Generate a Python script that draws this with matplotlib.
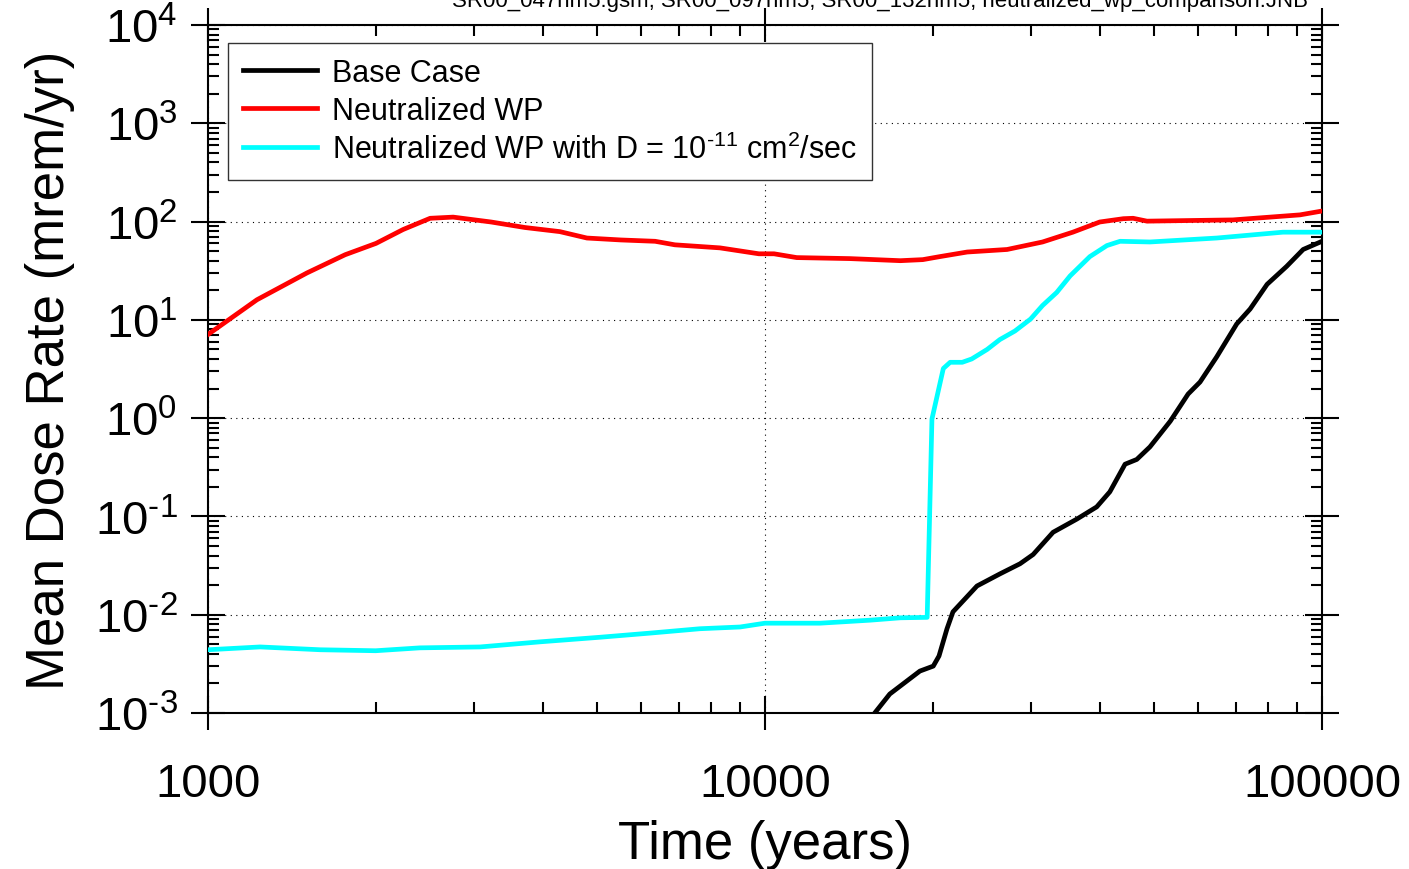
import matplotlib
matplotlib.use('Agg')
import matplotlib.pyplot as plt
import matplotlib.ticker as mticker
import numpy as np

plt.rcParams['font.family'] = ['Liberation Sans', 'DejaVu Sans']
plt.rcParams['mathtext.fontset'] = 'custom'
plt.rcParams['mathtext.rm'] = 'Liberation Sans'
plt.rcParams['mathtext.default'] = 'regular'

# Base Case
base_t = [15740, 16750, 18970, 20050, 20530, 21220, 21750, 24020, 26400, 28700,
          30300, 32900, 36300, 39400, 41600, 44300, 46500, 49100, 53400, 57500,
          60400, 64700, 70300, 74300, 79700, 86400, 92500, 100000]
base_d = [0.001, 0.00156, 0.00267, 0.0030, 0.0038, 0.0072, 0.0107, 0.0196, 0.026, 0.033,
          0.041, 0.069, 0.094, 0.125, 0.178, 0.34, 0.38, 0.51, 0.93, 1.76,
          2.33, 4.2, 9.1, 12.9, 23, 35, 52, 63]

# Neutralized WP
neut_t = [1000, 1224, 1505, 1763, 2003, 2240, 2505, 2755, 3223, 3708, 4283, 4790,
          5510, 6350, 6890, 8300, 9750, 10380, 11400, 14200, 17500, 19200, 20600,
          23070, 27200, 31500, 35700, 39900, 44000, 45800, 48500, 69200, 91300, 100000]
neut_d = [7.1, 16, 30, 46, 60, 83, 108, 111, 99, 87, 79, 68,
          65, 63, 58, 54, 47, 47, 43, 42, 40, 41, 44,
          49, 52, 62, 78, 99, 107, 108, 101, 104, 117, 128]

# Neutralized WP with D = 1e-11 cm2/sec
diff_t = [1000, 1240, 1590, 2000, 2400, 3080, 3950, 5060, 6220, 7640, 9020, 10000,
          12560, 15450, 17500, 19550, 19940, 20900, 21500, 22600, 23500, 25050,
          26400, 28100, 29980, 31500, 33400, 35300, 38300, 41100, 43400, 49100,
          64700, 85100, 100000]
diff_d = [0.0044, 0.0047, 0.0044, 0.0043, 0.0046, 0.0047, 0.0053, 0.0059, 0.0065,
          0.0072, 0.0075, 0.0082, 0.0082, 0.0088, 0.0093, 0.0094, 0.98, 3.2, 3.7,
          3.7, 4.0, 5.0, 6.3, 7.7, 10.2, 14, 19, 28, 44, 57, 63, 62, 68, 78, 78]

fig = plt.figure(figsize=(14.09, 8.70), dpi=100)
ax = fig.add_axes([208 / 1409, 156 / 870, 1114 / 1409, 688 / 870])

ax.plot(base_t, base_d, color='black', lw=3.4, label='Base Case', zorder=3)
ax.plot(neut_t, neut_d, color='#ff0000', lw=3.4, label='Neutralized WP', zorder=3)
ax.plot(diff_t, diff_d, color='#00ffff', lw=3.4,
        label=r'Neutralized WP with D = 10$^{\text{-}11}$ cm$^{2}$/sec', zorder=3)

ax.set_xscale('log')
ax.set_yscale('log')
ax.set_xlim(1000, 100000)
ax.set_ylim(1e-3, 1e4)


def fmt_y(v, pos):
    e = int(round(np.log10(v)))
    if e < 0:
        return r'$10^{\text{-}%d}$' % (-e)
    return r'$10^{%d}$' % e


ax.yaxis.set_major_locator(mticker.LogLocator(base=10, numticks=20))
ax.yaxis.set_minor_locator(mticker.LogLocator(base=10, subs=np.arange(2, 10), numticks=20))
ax.yaxis.set_major_formatter(mticker.FuncFormatter(fmt_y))
ax.yaxis.set_minor_formatter(mticker.NullFormatter())
ax.xaxis.set_major_formatter(mticker.FuncFormatter(lambda v, p: '%d' % round(v)))
ax.xaxis.set_minor_formatter(mticker.NullFormatter())

ax.tick_params(which='both', top=True, right=True, width=1.5, color='black')
ax.tick_params(which='major', direction='inout', length=24, labelsize=34)
ax.tick_params(which='minor', direction='in', length=8)
ax.tick_params(axis='x', which='major', pad=23)
ax.tick_params(axis='y', which='major', pad=10)

for sp in ax.spines.values():
    sp.set_linewidth(1.5)

ax.grid(True, which='major', color='black', linestyle=(0, (1, 4)), linewidth=0.8)

ax.set_xlabel('Time (years)', fontsize=38, labelpad=10)
ax.set_ylabel('Mean Dose Rate (mrem/yr)', fontsize=38, labelpad=14)

leg = ax.legend(loc='upper left', bbox_to_anchor=(0.018, 0.974), borderaxespad=0,
                fontsize=22, fancybox=False, edgecolor='#333333', framealpha=1,
                handlelength=2.4, handletextpad=0.5, labelspacing=0.25,
                borderpad=0.5)
leg.get_frame().set_linewidth(1.0)

fig.text(0.6245, 0.992, 'SR00_047nm5.gsm, SR00_097nm5, SR00_132nm5, neutralized_wp_comparison.JNB',
         ha='center', va='baseline', fontsize=16, family=['Liberation Sans Narrow', 'Liberation Sans'])

fig.savefig('out.png', dpi=100)
